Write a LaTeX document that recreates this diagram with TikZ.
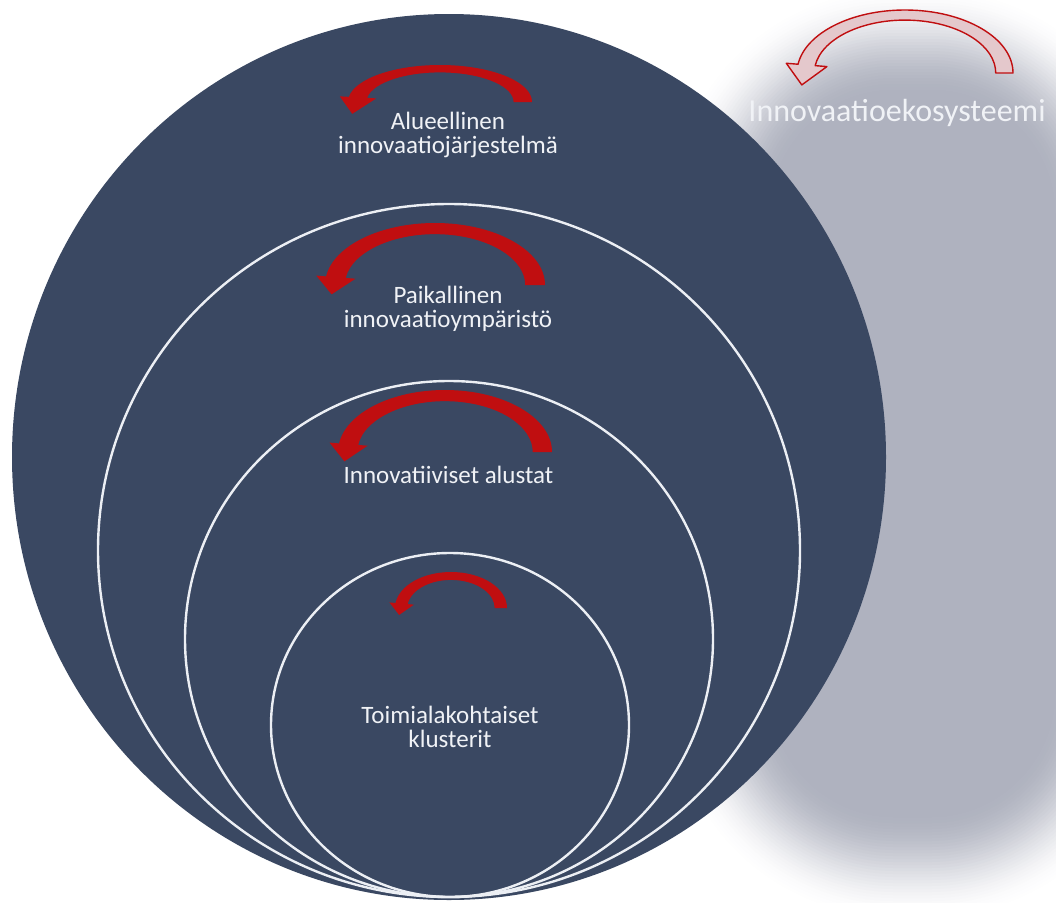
\documentclass[tikz,border=0pt]{standalone}
\usepackage{fontspec}
\setmainfont{Carlito}
\definecolor{navy}{RGB}{58,72,98}
\definecolor{shadowgray}{RGB}{175,178,191}
\definecolor{ringwhite}{RGB}{236,239,244}
\definecolor{txtwhite}{RGB}{240,242,246}
\definecolor{arrowred}{RGB}{192,14,16}
\definecolor{arrowpink}{RGB}{228,200,204}
\tikzset{
  lbl/.style={text=txtwhite, font=\fontsize{25}{24}\selectfont, align=center, inner sep=0pt, anchor=base},
  ring/.style={draw=ringwhite, line width=2.4pt},
  redarrow/.style={fill=arrowred},
  pinkarrow/.style={fill=arrowpink, draw=arrowred, line width=1.4pt, line join=round}
}
% #1 cx, #2 cy, #3 Rx, #4 Ry, #5 band width, #6 head length, #7 head half width, #8 style
\newcommand\ringarrow[8]{%
  \begin{scope}[shift={(#1,#2)}, xscale=#3, yscale=-#4]
    \pgfmathsetmacro\arA{1-#5}
    \pgfmathsetmacro\arM{1-#5/2}
    \pgfmathsetmacro\arO{\arM+#7}
    \pgfmathsetmacro\arI{\arM-#7}
    \pgfmathsetmacro\arTx{\arM*cos(172)+#6*cos(262)}
    \pgfmathsetmacro\arTy{\arM*sin(172)+#6*sin(262)}
    \path[#8] (0:1) arc[start angle=0, end angle=172, radius=1]
      -- (172:\arO) -- (\arTx,\arTy) -- (172:\arI) -- (172:\arA)
      arc[start angle=172, end angle=0, radius=\arA] -- cycle;
  \end{scope}}
\begin{document}
\begin{tikzpicture}[x=1pt, y=-1pt]
  \useasboundingbox (0,0) rectangle (1056,902);
  \fill[white] (0,0) rectangle (1056,902);
  % soft grey shadow on the right
  \foreach \k in {0,...,36} {
    \pgfmathsetmacro\sT{\k/36}
    \pgfmathsetmacro\sF{100*(3*\sT*\sT-2*\sT*\sT*\sT)}
    \pgfmathsetmacro\sD{\k*3}
    \pgfmathsetmacro\sR{230-\sD}
    \fill[shadowgray!\sF!white, rounded corners=\sR pt]
      (665+\sD, -15+\sD) rectangle (1160-\sD, 922-\sD);
  }
  % big circle and nested rings
  \fill[navy] (449,457) ellipse [x radius=437, y radius=443];
  \draw[ring] (449,550.5) ellipse [x radius=351, y radius=346.5];
  \draw[ring] (449,639) ellipse [x radius=264, y radius=258];
  \draw[ring] (450,725) ellipse [x radius=179, y radius=172];
  % curved arrows
  \ringarrow{440}{102}{92}{37}{0.2}{0.45}{0.2}{redarrow}
  \ringarrow{435}{285}{110}{62}{0.18}{0.28}{0.18}{redarrow}
  \ringarrow{445}{452}{107}{62}{0.18}{0.28}{0.18}{redarrow}
  \ringarrow{451}{608}{56}{36}{0.22}{0.32}{0.22}{redarrow}
  \ringarrow{905}{73}{108}{63}{0.16}{0.32}{0.19}{pinkarrow}
  % labels
  \node[lbl] (alue) at (448,153) {Alueellinen\\innovaatiojärjestelmä};
  \node[lbl] (paik) at (448,327) {Paikallinen\\innovaatioympäristö};
  \node[lbl] (alus) at (448.5,483) {Innovatiiviset alustat};
  \node[lbl] (toim) at (450,747) {Toimialakohtaiset\\klusterit};
  \node[text=txtwhite, font=\fontsize{32}{36}\selectfont, inner sep=0pt, anchor=base] (eko) at (897,121.7) {Innovaatioekosysteemi};
\end{tikzpicture}
\end{document}
